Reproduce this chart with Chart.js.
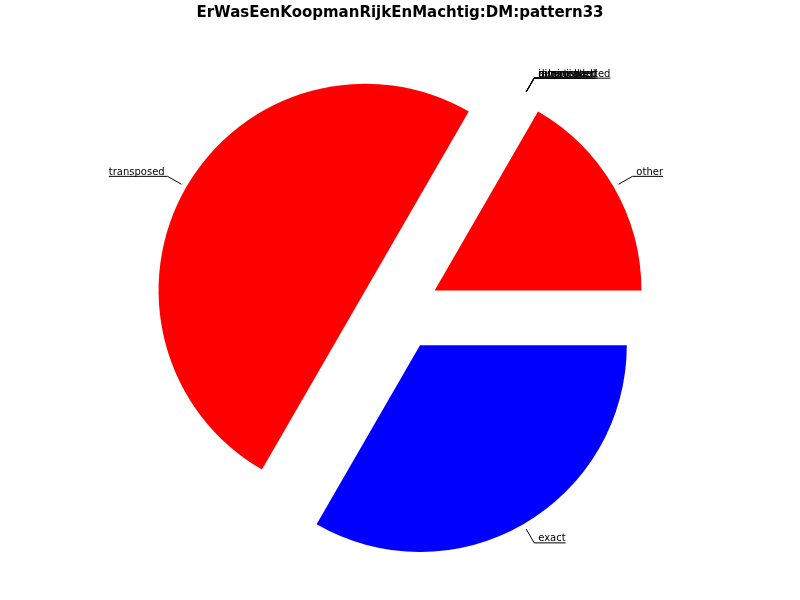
<!DOCTYPE html>
<html>
<head>
<meta charset="utf-8">
<script src="https://cdn.jsdelivr.net/npm/chart.js@4/dist/chart.umd.min.js"></script>
<style>
  html, body { margin: 0; padding: 0; background: #ffffff; }
  #wrap { width: 800px; height: 600px; position: relative; }
</style>
</head>
<body>
<div id="wrap"><canvas id="c" width="800" height="600"></canvas></div>
<script>
// Data (in the original, counter-clockwise order starting at 3 o'clock)
const chartTitle = "ErWasEenKoopmanRijkEnMachtig:DM:pattern33";
const categories = ["other", "augmented", "diminished", "inverted", "retrograded", "mirrorinverted", "transposed", "exact"];
const counts = [1, 0, 0, 0, 0, 0, 3, 2];
const sliceColors = ["#ff0000", "#ff0000", "#ff0000", "#ff0000", "#ff0000", "#ff0000", "#ff0000", "#0000ff"];

// Chart.js draws clockwise, so reverse to get the counter-clockwise layout
const labelsCW = categories.slice().reverse();
const valuesCW = counts.slice().reverse();
const colorsCW = sliceColors.slice().reverse();

const EXPLODE = 40;
const RADIUS = 206.8;

const explodePlugin = {
  id: 'explode',
  beforeDatasetsDraw(chart) {
    const meta = chart.getDatasetMeta(0);
    const ca = chart.chartArea;
    const cx = (ca.left + ca.right) / 2, cy = (ca.top + ca.bottom) / 2;
    meta.data.forEach(el => {
      const mid = (el.startAngle + el.endAngle) / 2;
      el.x = cx + EXPLODE * Math.cos(mid);
      el.y = cy + EXPLODE * Math.sin(mid);
    });
  }
};

const labelPlugin = {
  id: 'pieLabels',
  afterDatasetsDraw(chart) {
    const ctx = chart.ctx;
    const meta = chart.getDatasetMeta(0);
    ctx.save();
    ctx.font = '10px "DejaVu Sans"';
    ctx.strokeStyle = '#000';
    ctx.fillStyle = '#000';
    ctx.lineWidth = 1;
    ctx.textBaseline = 'alphabetic';
    meta.data.forEach((el, i) => {
      const mid = (el.startAngle + el.endAngle) / 2;
      const r = el.outerRadius;
      const c = Math.cos(mid), s = Math.sin(mid);
      const x0 = el.x + 1.027 * r * c, y0 = el.y + 1.027 * r * s;
      const x1 = el.x + 1.104 * r * c, y1 = el.y + 1.104 * r * s;
      const sign = c >= 0 ? 1 : -1;
      const gap = sign > 0 ? 4 : 3;
      const txt = chart.data.labels[i];
      const w = ctx.measureText(txt).width;
      const x2 = x1 + sign * (w + gap);
      ctx.beginPath();
      ctx.moveTo(x0, y0);
      ctx.lineTo(x1, y1);
      ctx.lineTo(x2, y1);
      ctx.stroke();
      ctx.textAlign = sign > 0 ? 'left' : 'right';
      ctx.fillText(txt, x1 + sign * gap, y1 - 1.5);
    });
    ctx.restore();
  }
};

const titlePlugin = {
  id: 'topTitle',
  afterDraw(chart) {
    const ctx = chart.ctx;
    ctx.save();
    ctx.font = 'bold 15px "DejaVu Sans"';
    ctx.fillStyle = '#000';
    ctx.textAlign = 'center';
    ctx.textBaseline = 'middle';
    ctx.fillText(chartTitle, 400, 13);
    ctx.restore();
  }
};

new Chart(document.getElementById('c'), {
  type: 'pie',
  data: {
    labels: labelsCW,
    datasets: [{
      data: valuesCW,
      backgroundColor: colorsCW,
      borderWidth: 0
    }]
  },
  options: {
    responsive: false,
    animation: false,
    rotation: 90,
    radius: RADIUS,
    layout: { padding: { top: 21, bottom: 0, left: 0, right: 0 } },
    plugins: {
      legend: { display: false },
      title: { display: false },
      tooltip: { enabled: false }
    },
    events: []
  },
  plugins: [explodePlugin, labelPlugin, titlePlugin]
});
</script>
</body>
</html>
